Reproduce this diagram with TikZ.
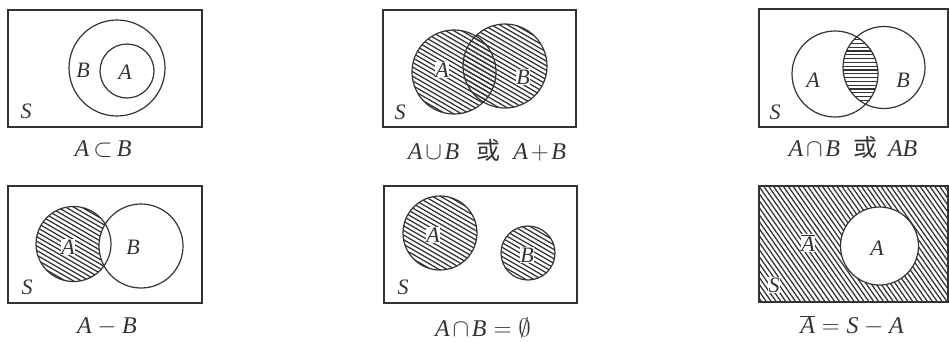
\documentclass[tikz,border=0pt]{standalone}
\usepackage{fontspec}
\setmainfont{Liberation Serif}
\newfontfamily\cjk{Noto Sans CJK SC}
\newcommand\ltr[1]{\mbox{\itshape #1}}
\definecolor{ink}{HTML}{333333}
\tikzset{
  frame/.style={draw=ink, line width=1.4pt},
  ring/.style={draw=ink, line width=1.2pt},
  hatchline/.style={draw=ink, line width=1.25pt},
  lbl/.style={text=ink, font=\fontsize{22}{22}\selectfont\itshape, inner sep=0.5pt},
  hlbl/.style={lbl, fill=white},
  captxt/.style={text=ink, font=\fontsize{24}{24}\selectfont, inner sep=0pt}
}
% #1 cx, #2 cy, #3 angle, #4 spacing
\newcommand\hatchlines[4]{%
  \foreach \k in {-35,...,35}{%
    \draw[hatchline, shift={(#1,#2)}, rotate=#3] (-170,\k*#4) -- (170,\k*#4);
  }%
}
\begin{document}
\begin{tikzpicture}[x=1pt,y=-1pt]
\useasboundingbox (0,0) rectangle (949,341);
% ---------- Panel 1 ----------
\draw[frame] (8,10) rectangle (202,127);
\draw[ring] (117,68) circle[radius=48pt];
\draw[ring] (127,71) circle[radius=27pt];
\node[lbl] (p1B) at (83,70) {B};
\node[lbl] (p1A) at (125,72) {A};
\node[lbl] (p1S) at (26,111) {S};
\node[captxt] (c1) at (103,149) {$\ltr{A}\mkern-2mu\subset\mkern-2mu\ltr{B}$};
% ---------- Panel 2 ----------
\draw[frame] (383,10) rectangle (576,127);
\begin{scope}
  \clip (454,72) circle[radius=42pt];
  \hatchlines{480}{69}{-30}{4}
\end{scope}
\begin{scope}
  \clip (505,66) circle[radius=42pt];
  \hatchlines{480}{69}{-30}{4}
\end{scope}
\draw[ring] (454,72) circle[radius=42pt];
\draw[ring] (505,66) circle[radius=42pt];
\node[hlbl] (p2A) at (442,70) {A};
\node[hlbl] (p2B) at (523,77) {B};
\node[lbl] (p2S) at (400,112) {S};
\node[captxt] (c2) at (487,150) {$\ltr{A}\mkern-2mu\cup\mkern-2mu\ltr{B}$\hspace{0.7em}{\cjk 或}\hspace{0.55em}$\ltr{A}\mkern-2mu+\mkern-2mu\ltr{B}$};
% ---------- Panel 3 ----------
\draw[frame] (759,9) rectangle (948,127);
\begin{scope}
  \clip (835,74) circle[radius=43pt];
  \clip (884,67.5) circle[radius=41pt];
  \hatchlines{860}{70}{0}{3.8}
\end{scope}
\draw[ring] (835,74) circle[radius=43pt];
\draw[ring] (884,67.5) circle[radius=41pt];
\node[lbl] (p3A) at (813,80) {A};
\node[lbl] (p3B) at (903,80) {B};
\node[lbl] (p3S) at (775,112) {S};
\node[captxt] (c3) at (853,147) {$\ltr{A}\mkern-2mu\cap\mkern-2mu\ltr{B}$\hspace{0.55em}{\cjk 或}\hspace{0.45em}\ltr{AB}};
% ---------- Panel 4 ----------
\draw[frame] (8,186) rectangle (202,303);
\begin{scope}
  \clip (73.5,244) circle[radius=37.5pt];
  \hatchlines{73.5}{244}{-30}{4}
\end{scope}
\fill[white] (141,246) circle[radius=42pt];
\draw[ring] (73.5,244) circle[radius=37.5pt];
\draw[ring] (141,246) circle[radius=42pt];
\node[hlbl] (p4A) at (68,247) {A};
\node[lbl] (p4B) at (133,247) {B};
\node[lbl] (p4S) at (27,287) {S};
\node[captxt] (c4) at (107,327) {$\ltr{A}-\ltr{B}$};
% ---------- Panel 5 ----------
\draw[frame] (384,186) rectangle (577,303);
\begin{scope}
  \clip (440,233) circle[radius=37pt];
  \hatchlines{440}{233}{-30}{4}
\end{scope}
\begin{scope}
  \clip (528,253) circle[radius=27pt];
  \hatchlines{528}{253}{-30}{4}
\end{scope}
\draw[ring] (440,233) circle[radius=37pt];
\draw[ring] (528,253) circle[radius=27pt];
\node[hlbl] (p5A) at (433,235) {A};
\node[hlbl] (p5B) at (527,255) {B};
\node[lbl] (p5S) at (403,287) {S};
\node[captxt] (c5) at (483,328) {$\ltr{A}\mkern-2mu\cap\mkern-2mu\ltr{B}=\emptyset$};
% ---------- Panel 6 ----------
\begin{scope}
  \clip (759,186) rectangle (948,302);
  \hatchlines{853}{244}{-55}{4}
\end{scope}
\fill[white] (879.5,246) circle[radius=39pt];
\draw[frame] (759,186) rectangle (948,302);
\draw[ring] (879.5,246) circle[radius=39pt];
\node[lbl] (p6A) at (877,248) {A};
\node[hlbl] (p6Ab) at (808,243) {$\overline{\ltr{A}}$};
\node[hlbl] (p6S) at (774,285) {S};
\node[captxt] (c6) at (852,326) {$\overline{\ltr{A}}=\ltr{S}-\ltr{A}$};
\end{tikzpicture}
\end{document}
